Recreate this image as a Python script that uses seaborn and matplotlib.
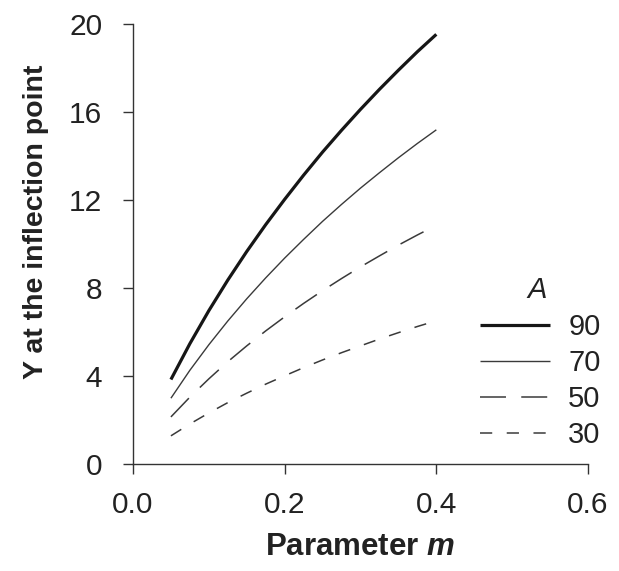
import matplotlib
matplotlib.use("Agg")
import matplotlib.pyplot as plt
import seaborn as sns
import pandas as pd

# Parameter m and the Y value at the inflection point for each asymptote A
m_values = [0.05, 0.075, 0.10, 0.125, 0.15, 0.175, 0.20, 0.225, 0.25,
            0.275, 0.30, 0.325, 0.35, 0.375, 0.40]
y_a90 = [3.84, 5.47, 6.97, 8.36, 9.66, 10.88, 12.03, 13.13, 14.18,
         15.17, 16.12, 17.03, 17.90, 18.74, 19.53]
y_a70 = [2.99, 4.26, 5.42, 6.50, 7.51, 8.46, 9.36, 10.21, 11.03,
         11.80, 12.54, 13.24, 13.92, 14.57, 15.19]
y_a50 = [2.14, 3.04, 3.87, 4.65, 5.37, 6.05, 6.69, 7.30, 7.88,
         8.43, 8.96, 9.46, 9.95, 10.41, 10.85]
y_a30 = [1.28, 1.82, 2.32, 2.79, 3.22, 3.63, 4.01, 4.38, 4.73,
         5.06, 5.37, 5.68, 5.97, 6.25, 6.51]
a_labels = ["90", "70", "50", "30"]
x_ticks = [0.0, 0.2, 0.4, 0.6]
y_ticks = [0, 4, 8, 12, 16, 20]

series = {"90": y_a90, "70": y_a70, "50": y_a50, "30": y_a30}
df = pd.concat(
    [pd.DataFrame({"m": m_values, "Y": vals, "A": a}) for a, vals in series.items()],
    ignore_index=True,
)

sns.set_style("ticks")
plt.rcParams["font.family"] = ["Liberation Sans", "DejaVu Sans"]
plt.rcParams["mathtext.fontset"] = "custom"
plt.rcParams["mathtext.it"] = "Liberation Sans:bold:italic"
plt.rcParams["mathtext.rm"] = "Liberation Sans:bold"

fig = plt.figure(figsize=(6.19, 5.71), dpi=100)
ax = fig.add_axes([133 / 619, 1 - 464 / 571, 455 / 619, 440 / 571])

styles = {
    "90": dict(color="#161616", lw=2.3, dash=None),
    "70": dict(color="#3a3a3a", lw=1.0, dash=None),
    "50": dict(color="#3a3a3a", lw=1.1, dash=(17, 10)),
    "30": dict(color="#3a3a3a", lw=1.1, dash=(8, 9.5)),
}

handles = []
for a in a_labels:
    st = styles[a]
    sub = df[df["A"] == a]
    n_before = len(ax.lines)
    sns.lineplot(data=sub, x="m", y="Y", ax=ax, color=st["color"],
                 linewidth=st["lw"], legend=False, estimator=None)
    line = ax.lines[n_before]
    line.set_solid_capstyle("butt")
    if st["dash"] is not None:
        line.set_dashes(st["dash"])
        line.set_dash_capstyle("butt")
    line.set_label(a)
    handles.append(line)

ax.set_xlim(0, 0.6)
ax.set_ylim(0, 20)
ax.set_xticks(x_ticks)
ax.set_xticklabels([f"{t:.1f}" for t in x_ticks])
ax.set_yticks(y_ticks)
ax.set_yticklabels([str(t) for t in y_ticks])

sns.despine(ax=ax)
for side in ("left", "bottom"):
    ax.spines[side].set_linewidth(1.0)
    ax.spines[side].set_color("#333333")
ax.tick_params(axis="both", direction="out", length=7.2, width=1.0,
               color="#333333", labelsize=21.5, labelcolor="#222222")
ax.tick_params(axis="y", pad=15)
ax.tick_params(axis="x", pad=12)

ax.set_xlabel("Parameter $m$", fontsize=22.5, fontweight="bold", color="#222222")
ax.set_ylabel("Y at the inflection point", fontsize=20.5, fontweight="bold",
              color="#222222")
ax.xaxis.set_label_coords(0.5, -0.155)
ax.yaxis.set_label_coords(-0.185, 0.55)

leg = ax.legend(handles=handles, labels=a_labels, loc="center left",
                bbox_to_anchor=(0.763, 0.1886), frameon=False, fontsize=21,
                handlelength=2.4, handletextpad=0.62, labelspacing=0.28,
                borderpad=0, borderaxespad=0)
for t in leg.get_texts():
    t.set_color("#222222")
ax.text(0.91, 0.395, "A", transform=ax.transAxes, fontsize=21, style="italic",
        ha="right", va="center", color="#222222")

fig.savefig("out.png", dpi=100)
